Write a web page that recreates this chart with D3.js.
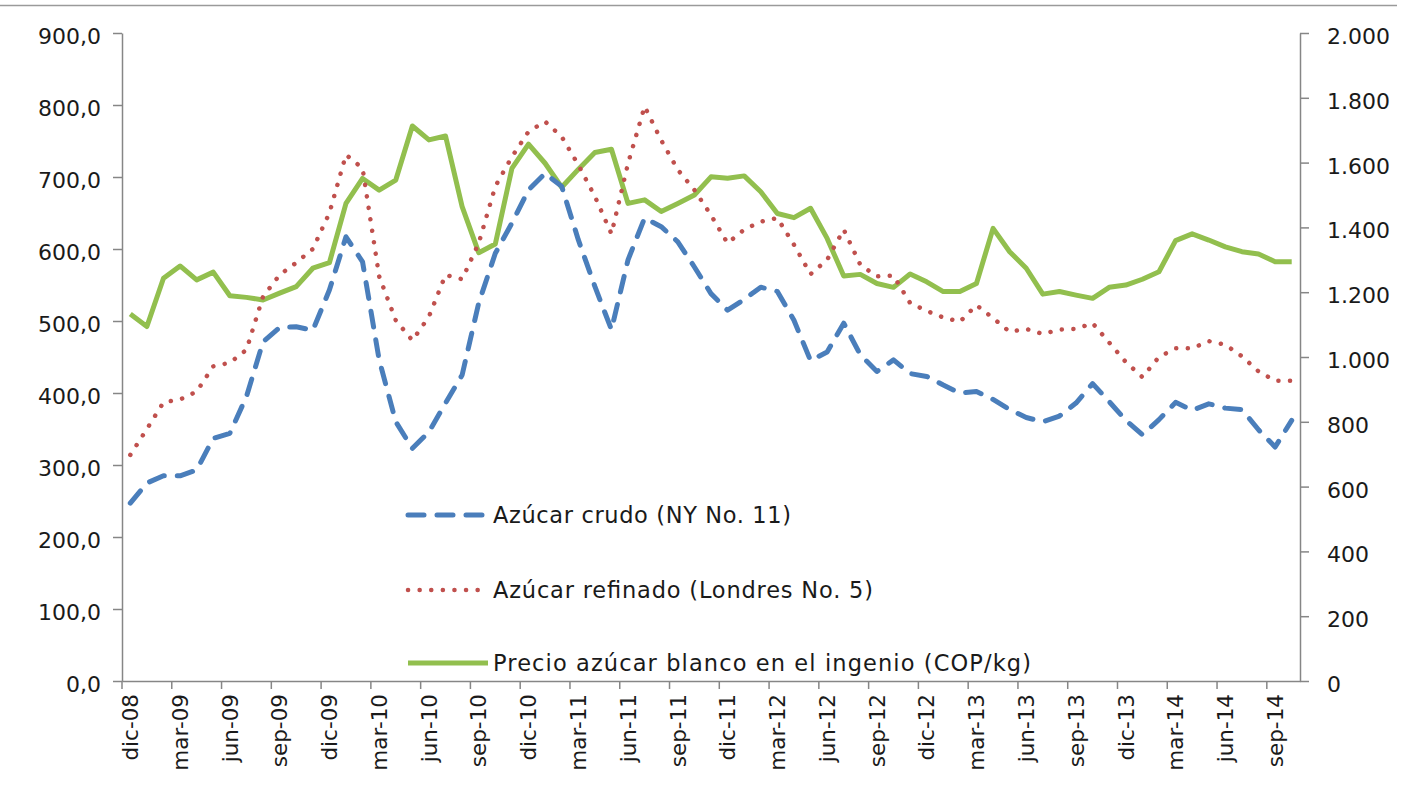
<!DOCTYPE html>
<html>
<head>
<meta charset="utf-8">
<script src="https://cdn.jsdelivr.net/npm/d3@7"></script>
<style>
  html, body { margin: 0; padding: 0; background: #fff; }
  svg { display: block; font-family: "DejaVu Sans", sans-serif; }
</style>
</head>
<body>
<svg id="chart" width="1403" height="790"></svg>
<script>
// monthly categories, dic-08 .. oct-14
const months = [
  'dic-08','ene-09','feb-09','mar-09','abr-09','may-09','jun-09','jul-09','ago-09','sep-09','oct-09','nov-09',
  'dic-09','ene-10','feb-10','mar-10','abr-10','may-10','jun-10','jul-10','ago-10','sep-10','oct-10','nov-10',
  'dic-10','ene-11','feb-11','mar-11','abr-11','may-11','jun-11','jul-11','ago-11','sep-11','oct-11','nov-11',
  'dic-11','ene-12','feb-12','mar-12','abr-12','may-12','jun-12','jul-12','ago-12','sep-12','oct-12','nov-12',
  'dic-12','ene-13','feb-13','mar-13','abr-13','may-13','jun-13','jul-13','ago-13','sep-13','oct-13','nov-13',
  'dic-13','ene-14','feb-14','mar-14','abr-14','may-14','jun-14','jul-14','ago-14','sep-14','oct-14'
];

// Azúcar crudo (NY No. 11) - left axis
const crudo = [
  247, 275, 285, 285, 293, 337, 344, 395, 471, 491, 492, 487,
  543, 617, 582, 446, 360, 323, 346, 386, 425, 525, 594, 636,
  682, 705, 687, 613, 548, 488, 585, 643, 631, 610, 575, 538,
  515, 530, 547, 541, 501, 445, 457, 497, 453, 430, 446, 427,
  423, 411, 400, 402, 391, 377, 366, 360, 368, 386, 413, 388,
  362, 342, 363, 387, 376, 385, 379, 377, 349, 325, 362
];

// Azúcar refinado (Londres No. 5) - left axis
const refinado = [
  314, 350, 387, 391, 402, 437, 442, 460, 534, 564, 581, 600,
  650, 731, 712, 562, 501, 473, 506, 564, 558, 608, 687, 728,
  763, 777, 756, 717, 673, 621, 719, 798, 751, 710, 682, 647,
  608, 627, 638, 643, 606, 565, 585, 627, 578, 562, 563, 525,
  514, 505, 499, 522, 504, 485, 489, 482, 488, 489, 497, 470,
  443, 422, 450, 462, 462, 472, 467, 451, 430, 417, 417
];

// Precio azúcar blanco en el ingenio (COP/kg) - right axis
const precio = [
  1133, 1094, 1243, 1281, 1238, 1262, 1189, 1184, 1176, 1197, 1217, 1274,
  1291, 1474, 1551, 1515, 1546, 1713, 1670, 1682, 1464, 1322, 1349, 1582,
  1657, 1598, 1524, 1579, 1631, 1641, 1474, 1485, 1449, 1474, 1500, 1556,
  1552, 1559, 1510, 1443, 1430, 1459, 1366, 1250, 1255, 1227, 1215, 1256,
  1232, 1202, 1202, 1227, 1397, 1325, 1274, 1194, 1202, 1191, 1181, 1215,
  1222, 1240, 1263, 1359, 1380, 1361, 1340, 1325, 1318, 1294, 1294
];

const leftTicks = [0, 100, 200, 300, 400, 500, 600, 700, 800, 900];
const rightTicks = [0, 200, 400, 600, 800, 1000, 1200, 1400, 1600, 1800, 2000];

const seriesNames = [
  'Azúcar crudo (NY No. 11)',
  'Azúcar refinado (Londres No. 5)',
  'Precio azúcar blanco en el ingenio (COP/kg)'
];

const margin = { top: 33, right: 103, bottom: 109, left: 122 };
const width = 1403 - margin.left - margin.right;
const height = 790 - margin.top - margin.bottom;
const axisColor = '#868686';
const textColor = '#1a1a1a';

const svg = d3.select('#chart');

// chart frame top line
svg.append('line')
  .attr('x1', 0).attr('x2', 1397)
  .attr('y1', 5.5).attr('y2', 5.5)
  .attr('stroke', '#9a9a9a').attr('stroke-width', 1.5);

const g = svg.append('g').attr('transform', `translate(${margin.left},${margin.top})`);

const x = d3.scaleBand().domain(months).range([0, width]).paddingInner(0).paddingOuter(0);
const bw = x.bandwidth();
const cx = (m) => x(m) + bw / 2;

const yL = d3.scaleLinear().domain([0, 900]).range([height, 0]);
const yR = d3.scaleLinear().domain([0, 2000]).range([height, 0]);

const fmtLeft = (d) => d3.format('.1f')(d).replace('.', ',');
const fmtRight = (d) => d3.format(',')(d).replace(/,/g, '.');

function styleAxis(sel) {
  sel.select('.domain').attr('stroke', axisColor).attr('stroke-width', 1.5);
  sel.selectAll('.tick line').attr('stroke', axisColor).attr('stroke-width', 1.5);
  sel.selectAll('.tick text').attr('fill', textColor);
}

// left axis
g.append('g')
  .call(d3.axisLeft(yL).tickValues(leftTicks).tickFormat(fmtLeft).tickSize(9).tickSizeOuter(0).tickPadding(12))
  .call(styleAxis)
  .call(s => s.selectAll('.tick text').attr('font-size', 22).attr('dy', '0.48em'))
  .attr('font-family', null);

// right axis
g.append('g')
  .attr('transform', `translate(${width},0)`)
  .call(d3.axisRight(yR).tickValues(rightTicks).tickFormat(fmtRight).tickSize(9).tickSizeOuter(0).tickPadding(18))
  .call(styleAxis)
  .call(s => s.selectAll('.tick text').attr('font-size', 22).attr('dy', '0.48em'))
  .attr('font-family', null);

// bottom axis, ticks on category boundaries every 3 months
const labelMonths = months.filter((m, i) => i % 3 === 0);
const xAxis = g.append('g')
  .attr('transform', `translate(0,${height})`)
  .call(d3.axisBottom(x).tickValues(labelMonths).tickSize(8).tickSizeOuter(0))
  .call(styleAxis)
  .attr('font-family', null);
xAxis.selectAll('.tick line').attr('x1', -bw / 2).attr('x2', -bw / 2);
xAxis.selectAll('.tick text')
  .attr('font-size', 21.5)
  .attr('transform', 'rotate(-90)')
  .attr('text-anchor', 'end')
  .attr('x', -13)
  .attr('y', 0)
  .attr('dy', '0.36em');

// lines
const lineL = d3.line().x((d, i) => cx(months[i])).y(d => yL(d));
const lineR = d3.line().x((d, i) => cx(months[i])).y(d => yR(d));

const styles = [
  { color: '#4a7ebb', width: 5, dash: '16,13', cap: 'round' },
  { color: '#c0504d', width: 4.5, dash: '0.1,11.5', cap: 'round' },
  { color: '#92bf4e', width: 5, dash: null, cap: 'round' }
];

g.append('path')
  .datum(precio)
  .attr('d', lineR)
  .attr('fill', 'none')
  .attr('stroke', styles[2].color)
  .attr('stroke-width', styles[2].width)
  .attr('stroke-linejoin', 'round');

g.append('path')
  .datum(refinado)
  .attr('d', lineL)
  .attr('fill', 'none')
  .attr('stroke', styles[1].color)
  .attr('stroke-width', styles[1].width)
  .attr('stroke-dasharray', styles[1].dash)
  .attr('stroke-linecap', styles[1].cap)
  .attr('stroke-linejoin', 'round');

g.append('path')
  .datum(crudo)
  .attr('d', lineL)
  .attr('fill', 'none')
  .attr('stroke', styles[0].color)
  .attr('stroke-width', styles[0].width)
  .attr('stroke-dasharray', styles[0].dash)
  .attr('stroke-linecap', styles[0].cap)
  .attr('stroke-linejoin', 'round');

// legend
const legendY = [515, 590, 663];
const legendWidths = [298, 380, 538];
const legend = svg.append('g');
seriesNames.forEach((name, i) => {
  const st = styles[i];
  legend.append('line')
    .attr('x1', 408).attr('x2', 488)
    .attr('y1', legendY[i]).attr('y2', legendY[i])
    .attr('stroke', st.color)
    .attr('stroke-width', st.width)
    .attr('stroke-dasharray', st.dash)
    .attr('stroke-linecap', st.dash ? st.cap : 'butt');
  legend.append('text')
    .attr('x', 493)
    .attr('y', legendY[i])
    .attr('dy', '0.36em')
    .attr('font-size', 22.5)
    .attr('fill', textColor)
    .attr('textLength', legendWidths[i])
    .attr('lengthAdjust', 'spacing')
    .text(name);
});
</script>
</body>
</html>
